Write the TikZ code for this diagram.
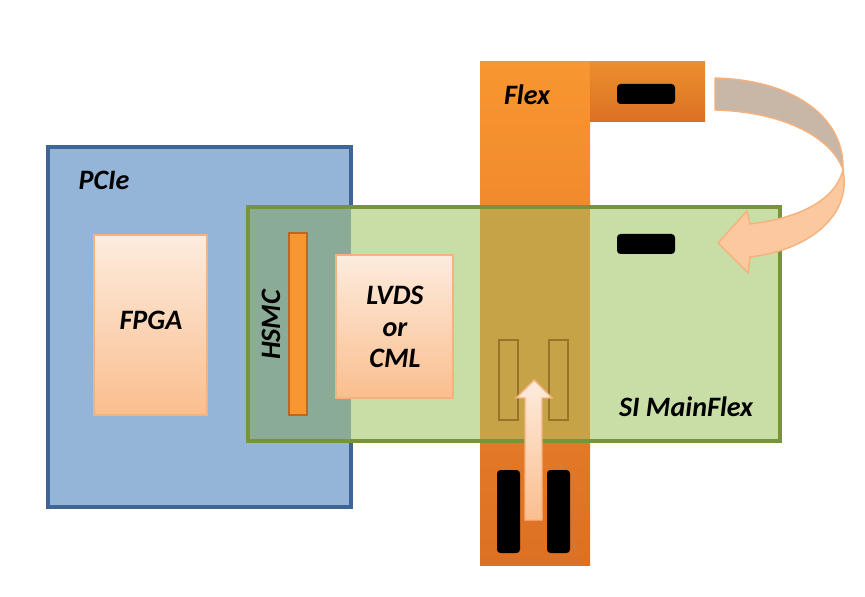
\documentclass[tikz,border=0pt]{standalone}
\usepackage{fontspec}
\setmainfont{Carlito}
\usepackage{tikz}

\definecolor{pcieblue}{RGB}{148,180,216}
\definecolor{pcieedge}{RGB}{63,101,150}
\definecolor{mfgreen}{RGB}{200,222,166}
\definecolor{mfedge}{RGB}{119,147,60}
\definecolor{mixblue}{RGB}{138,171,150}
\definecolor{mixflex}{RGB}{197,163,70}
\definecolor{flextop}{RGB}{248,150,48}
\definecolor{flexbot}{RGB}{220,112,36}
\definecolor{chipedge}{RGB}{246,178,124}
\definecolor{chiptop}{RGB}{253,236,222}
\definecolor{chipbot}{RGB}{250,190,142}
\definecolor{hsmcedge}{RGB}{192,102,31}
\definecolor{twistgrey}{RGB}{200,182,166}
\definecolor{outline}{RGB}{150,116,40}

\begin{document}
\begin{tikzpicture}[x=0.02cm,y=-0.02cm]
      \tikzstyle{board}=[line width=2.1pt]
      \tikzstyle{chip}=[draw=chipedge,line width=0.8pt,top color=chiptop,bottom color=chipbot]
      \tikzstyle{pad}=[fill=black,rounded corners=2pt]
      \tikzstyle{lbl}=[font=\fontsize{16}{19}\selectfont\bfseries\itshape,inner sep=0pt]
      \useasboundingbox (0,0) rectangle (865,597);
      % PCIe card and FPGA
      \draw[board,fill=pcieblue,draw=pcieedge] (48,147) rectangle (351,507);
      \draw[chip] (94,235) rectangle (207,415);
      % flex strip and its top tab
      \fill[top color=flextop,bottom color=flexbot] (480,62) rectangle (590,565);
      \fill[top color=flextop!95!black,bottom color=flexbot] (590,62) rectangle (705,122);
      % SI MainFlex board
      \fill[mfgreen] (248,207) rectangle (780,441);
      \fill[mixblue] (248,207) rectangle (351,441);
      \fill[mixflex] (480,207) rectangle (590,441);
      \draw[board,draw=mfedge] (248,207) rectangle (780,441);
      % HSMC connector and LVDS chip
      \draw[fill=flextop,draw=hsmcedge,line width=1.2pt] (289,233) rectangle (307,415);
      \draw[chip] (336,255) rectangle (453,398);
      % pads
      \fill[pad] (617,84) rectangle (675,104);
      \fill[pad] (617,234) rectangle (675,254);
      \fill[pad] (497,470) rectangle (520,553);
      \fill[pad] (547,470) rectangle (570,553);
      \draw[outline,line width=0.6pt] (499,340) rectangle (518,420);
      \draw[outline,line width=0.6pt] (549,340) rectangle (568,420);
      % arrows
      \draw[chip] (525,520) -- (525,398) -- (516,398) -- (534,380) -- (552,398)
            -- (542,398) -- (542,520) -- cycle;
      \draw[draw=chipedge,line width=0.8pt,fill=twistgrey] (715,78)
            .. controls (795,80) and (845,118) .. (843,170)
            .. controls (832,138) and (785,112) .. (715,110) -- cycle;
      \draw[draw=chipedge,line width=0.8pt,fill=chipbot!85!white] (843,170)
            .. controls (852,215) and (810,250) .. (750,257) -- (748,273)
            -- (718,243) -- (747,211) -- (750,224)
            .. controls (800,218) and (835,200) .. (843,170) -- cycle;
      % labels
      \node[lbl] (pcie) at (104,180) {PCIe};
      \node[lbl] (fpga) at (151,320) {FPGA};
      \node[lbl,rotate=90] (hsmc) at (271,325) {HSMC};
      \node[lbl,align=center] (lvds) at (395,327) {LVDS\\[-1pt]or\\[-1pt]CML};
      \node[lbl] (flex) at (527,95) {Flex};
      \node[lbl] (mainflex) at (686,407) {SI MainFlex};
\end{tikzpicture}
\end{document}
